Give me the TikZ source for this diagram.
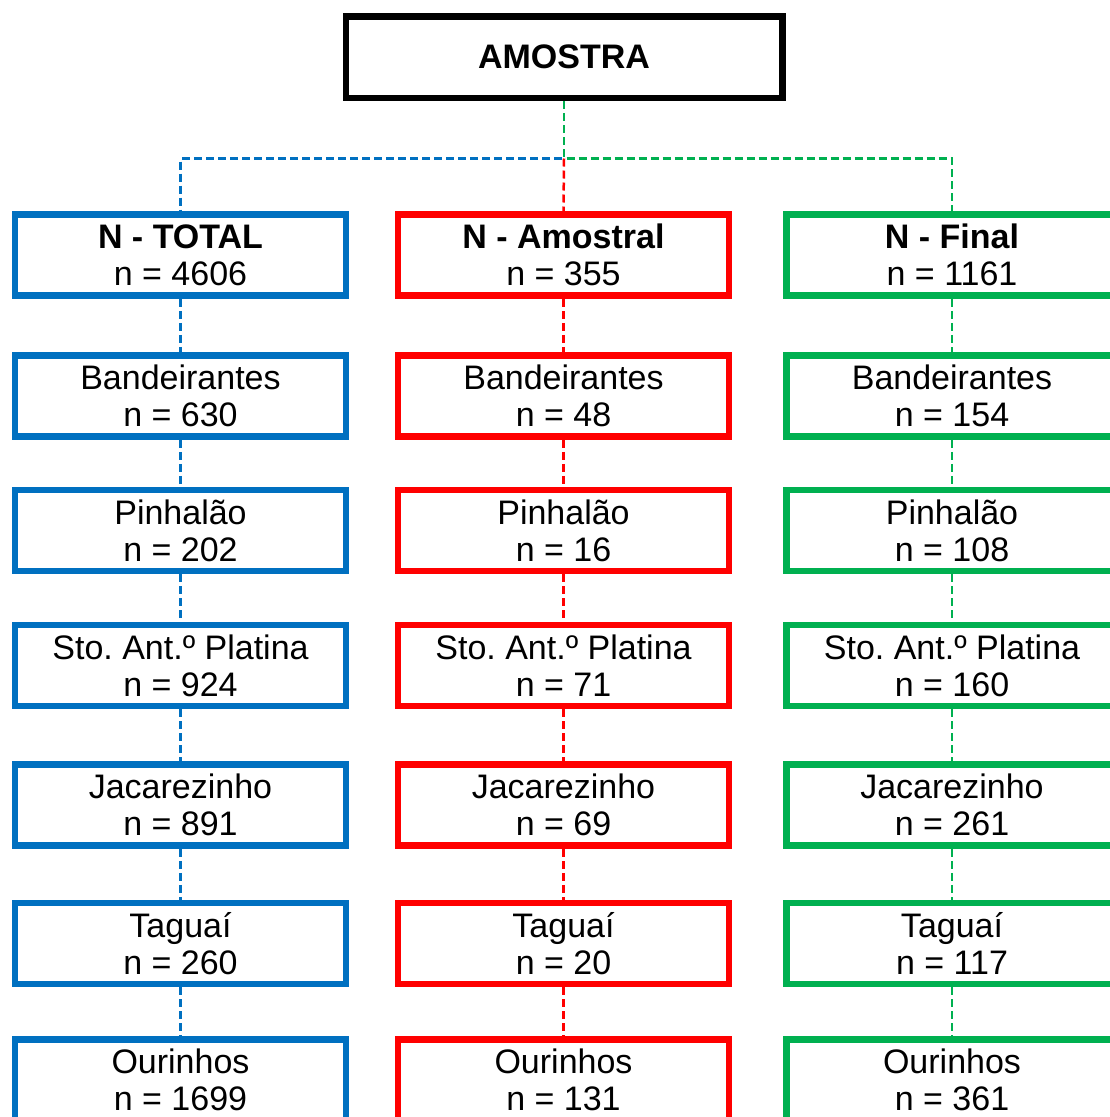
\documentclass[tikz,border=0pt]{standalone}
\usepackage{fontspec}
\setmainfont{Liberation Sans}
\frenchspacing

\definecolor{colblue}{HTML}{0070C0}
\definecolor{colred}{HTML}{FF0000}
\definecolor{colgreen}{HTML}{00B050}

\tikzset{
    box/.style={draw, line width=6.5pt, minimum width=331pt, minimum height=81pt,
        inner sep=0pt, align=center, font=\fontsize{34}{37}\selectfont},
    link/.style={line width=2.5pt, dash pattern=on 8pt off 4pt}
}

\begin{document}
\begin{tikzpicture}[x=1pt, y=1pt]
    \clip (0,0) rectangle (1110,-1117);

    % Top box
    \node[box, minimum width=436.5pt, minimum height=81.5pt, font=\fontsize{34}{37}\selectfont\bfseries]
        (top) at (564,-57) {AMOSTRA};

    % Column heads
    \node[box, colblue] (b1) at (180.5,-255) {\color{black}\textbf{N - TOTAL}\\\color{black}n = 4606};
    \node[box, colred] (r1) at (563.5,-255) {\color{black}\textbf{N - Amostral}\\\color{black}n = 355};
    \node[box, colgreen] (g1) at (952,-255) {\color{black}\textbf{N - Final}\\\color{black}n = 1161};

    % Towns
    \foreach \i/\y/\town/\nb/\nr/\ng in {2/396/Bandeirantes/630/48/154,
            3/530.5/Pinhalão/202/16/108,
            4/665.5/Sto. Ant.º Platina/924/71/160,
            5/805/Jacarezinho/891/69/261,
            6/943.5/Taguaí/260/20/117,
            7/1080/Ourinhos/1699/131/361} {
        \node[box, colblue] (b\i) at (180.5,-\y) {\color{black}\town\\\color{black}n = \nb};
        \node[box, colred] (r\i) at (563.5,-\y) {\color{black}\town\\\color{black}n = \nr};
        \node[box, colgreen] (g\i) at (952,-\y) {\color{black}\town\\\color{black}n = \ng};
    }

    % Links from the top box
    \draw[link, colblue] (top.south) -- ++(0,-57.5) -| (b1.north);
    \draw[link, colgreen] (top.south) -- ++(0,-57.5) -| (g1.north);
    \draw[link, colred] ([yshift=-57.5pt]top.south) -- (r1.north);

    % Links down the columns
    \foreach \i [evaluate=\i as \j using int(\i+1)] in {1,...,6} {
        \draw[link, colblue] (b\i.south) -- (b\j.north);
        \draw[link, colred] (r\i.south) -- (r\j.north);
        \draw[link, colgreen] (g\i.south) -- (g\j.north);
    }
\end{tikzpicture}
\end{document}
